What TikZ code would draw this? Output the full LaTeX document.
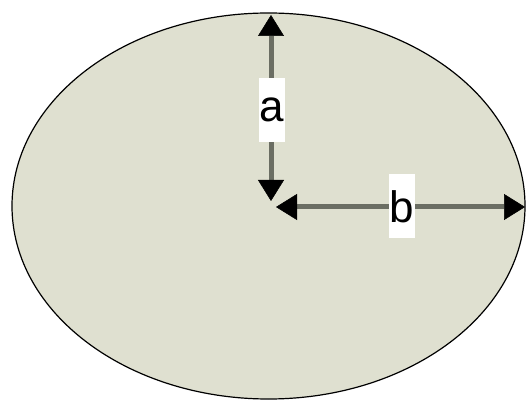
\documentclass[tikz,border=0pt]{standalone}
\usepackage{fontspec}
\setmainfont{Liberation Sans}
\usetikzlibrary{arrows.meta,shapes.geometric}
\definecolor{discfill}{RGB}{223,224,208}
\definecolor{axisgray}{RGB}{107,110,99}

\begin{document}
\begin{tikzpicture}[x=1pt, y=1pt,
  axis/.style={line width=5pt, draw=axisgray,
    {Triangle[length=21pt,width=26pt,line width=0.5pt,color=black]}-{Triangle[length=21pt,width=26pt,line width=0.5pt,color=black]}},
  radlabel/.style={fill=white, inner xsep=1pt, inner ysep=0pt, minimum height=64pt, font=\fontsize{44}{44}\selectfont}]
  \useasboundingbox (0,0) rectangle (526,401);

  % Disc
  \node[ellipse, draw=black, line width=1.2pt, fill=discfill, minimum width=513pt, minimum height=386pt, inner sep=0pt] (disc) at (268.5,195) {};

  % Half axes
  \coordinate (vtail) at (271,200);
  \coordinate (vhead) at (271,386);
  \coordinate (htail) at (276,194);
  \coordinate (hhead) at (525,194);
  \draw[axis] (vtail) -- (vhead);
  \draw[axis] (htail) -- (hhead);

  % Labels
  \node[radlabel] (alabel) at (272,291) {a};
  \node[radlabel] (blabel) at (402,194.5) {b};
\end{tikzpicture}
\end{document}
